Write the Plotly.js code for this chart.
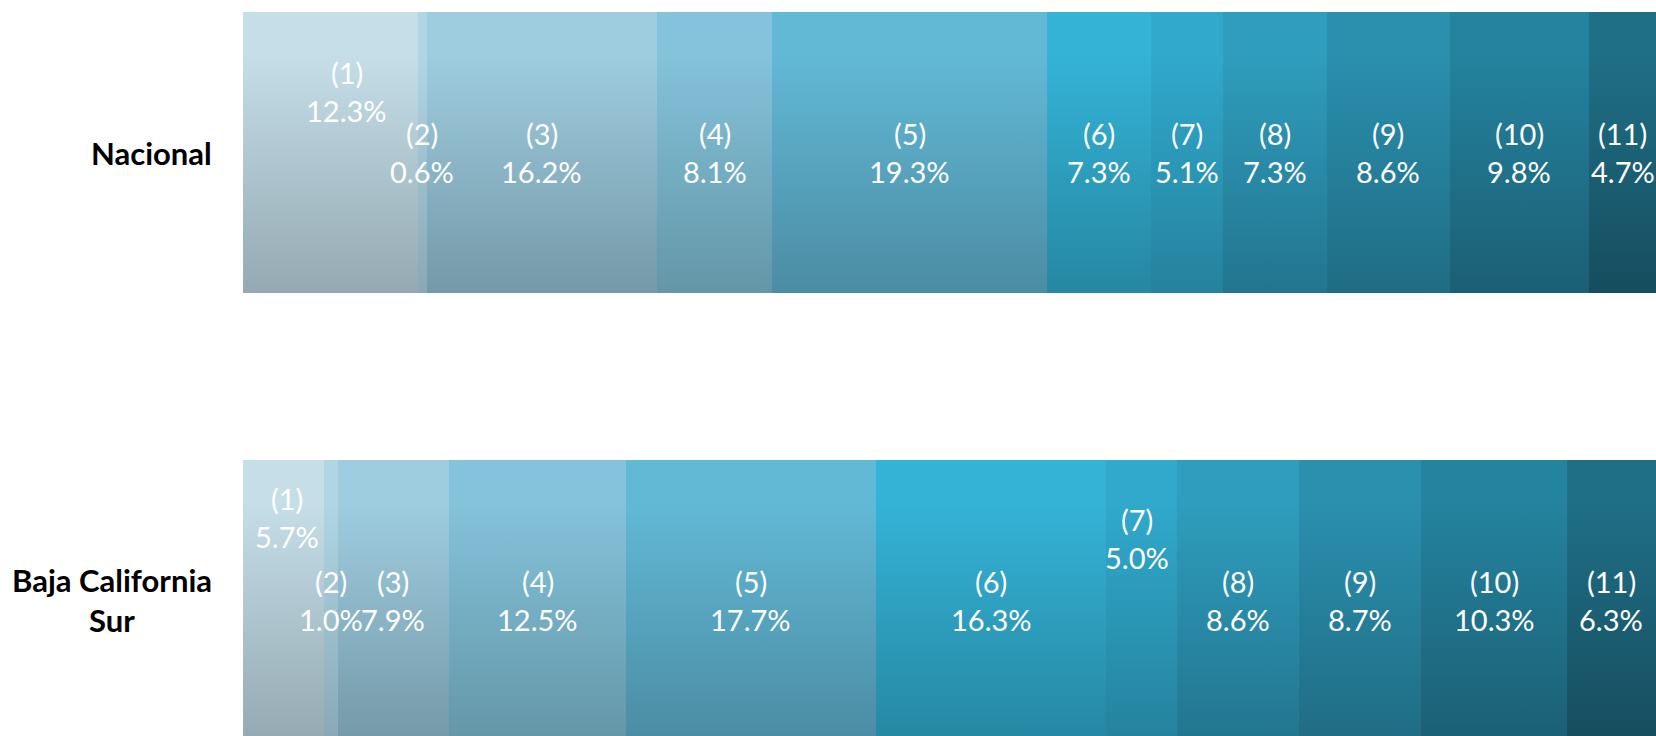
<!DOCTYPE html>
<html>
<head>
<meta charset="utf-8">
<script src="https://cdn.plot.ly/plotly-3.0.1.min.js"></script>
<style>
  html, body { margin: 0; padding: 0; background: #ffffff; overflow: hidden; }
  #chart { width: 1656px; height: 736px; }
</style>
</head>
<body>
<div id="chart"></div>
<script>
// ---- data ----
const categories = ["Nacional", "Baja California Sur"];
const categoryLabels = ["Nacional", "Baja California<br>Sur"];
const segmentLabels = ["(1)", "(2)", "(3)", "(4)", "(5)", "(6)", "(7)", "(8)", "(9)", "(10)", "(11)"];
const nacional = [12.3, 0.6, 16.2, 8.1, 19.3, 7.3, 5.1, 7.3, 8.6, 9.8, 4.7];
const bajaCaliforniaSur = [5.7, 1.0, 7.9, 12.5, 17.7, 16.3, 5.0, 8.6, 8.7, 10.3, 6.3];

// ---- styles ----
const topColors = ["#c5dee8", "#b0d6e4", "#9ecde0", "#84c3db", "#62b9d6", "#34b3d7",
                   "#30a9cd", "#2f9dbd", "#2a90ae", "#24839f", "#1f6f87"];
const bottomColors = ["#95a9b2", "#8aa8b5", "#7599a8", "#6496a7", "#4b8ca3", "#2687a2",
                      "#25829d", "#22758f", "#206c84", "#1b5f74", "#164d5e"];
// manual label nudges (pixels) : [seriesIndex, categoryIndex, dx, dy(up)]
const labelNudges = [[0, 0, 16, 61], [0, 1, 4, 83], [6, 1, -5, 62]];

const seriesByCategory = [nacional, bajaCaliforniaSur];

const traces = segmentLabels.map((name, i) => ({
  type: "bar",
  orientation: "h",
  name: name,
  y: categories,
  x: seriesByCategory.map(s => s[i]),
  marker: { color: topColors[i], line: { width: 0 } },
  hoverinfo: "none",
  textposition: "none"
}));

const labelFont = { family: "Lato, 'Open Sans', sans-serif", size: 29, color: "#ffffff" };
const annotations = [];
seriesByCategory.forEach((series, c) => {
  const total = series.reduce((a, b) => a + b, 0);
  let cum = 0;
  series.forEach((v, i) => {
    const mid = (cum + v / 2) / total * 100;
    cum += v;
    let dx = 0, dy = 0;
    labelNudges.forEach(n => { if (n[0] === i && n[1] === c) { dx = n[2]; dy = n[3]; } });
    annotations.push({
      x: mid, y: categories[c], xref: "x", yref: "y",
      text: segmentLabels[i], showarrow: false, font: labelFont,
      xanchor: "center", yanchor: "middle", xshift: dx, yshift: dy + 19
    });
    annotations.push({
      x: mid, y: categories[c], xref: "x", yref: "y",
      text: v.toFixed(1) + "%", showarrow: false, font: labelFont,
      xanchor: "center", yanchor: "middle", xshift: dx, yshift: dy - 19
    });
  });
});
categories.forEach((cat, c) => {
  annotations.push({
    x: 0, xref: "paper", y: cat, yref: "y",
    text: categoryLabels[c], showarrow: false, align: "center",
    xanchor: "right", yanchor: "middle", xshift: -29,
    font: { family: "Lato, 'Open Sans', sans-serif", size: 31, color: "#000000", weight: 700 }
  });
});

const layout = {
  width: 1656, height: 736,
  margin: { l: 243, r: 0, t: 0, b: 0, pad: 0 },
  paper_bgcolor: "#ffffff", plot_bgcolor: "#ffffff",
  barmode: "stack", barnorm: "percent", bargap: 0.373,
  showlegend: false,
  xaxis: { range: [0, 100], showgrid: false, zeroline: false, showticklabels: false, showline: false, fixedrange: true },
  yaxis: { type: "category", categoryorder: "array", categoryarray: categories,
           range: [1.3025, -0.3404], showgrid: false, zeroline: false, showticklabels: false, showline: false, fixedrange: true },
  annotations: annotations
};

Plotly.newPlot("chart", traces, layout, { staticPlot: true, displayModeBar: false }).then(gd => {
  const svgNS = "http://www.w3.org/2000/svg";
  const svg = gd.querySelector("svg.main-svg");
  let defs = svg.querySelector("defs");
  if (!defs) { defs = document.createElementNS(svgNS, "defs"); svg.insertBefore(defs, svg.firstChild); }
  topColors.forEach((tc, i) => {
    const g = document.createElementNS(svgNS, "linearGradient");
    g.setAttribute("id", "segGrad" + i);
    g.setAttribute("x1", "0"); g.setAttribute("y1", "0");
    g.setAttribute("x2", "0"); g.setAttribute("y2", "1");
    [[0, tc], [0.15, tc], [1, bottomColors[i]]].forEach(([o, col]) => {
      const s = document.createElementNS(svgNS, "stop");
      s.setAttribute("offset", o);
      s.setAttribute("stop-color", col);
      g.appendChild(s);
    });
    defs.appendChild(g);
  });
  gd.querySelectorAll(".barlayer .trace").forEach((tr, i) => {
    tr.querySelectorAll(".point path").forEach(p => { p.style.fill = "url(#segGrad" + i + ")"; });
  });
});
</script>
</body>
</html>
